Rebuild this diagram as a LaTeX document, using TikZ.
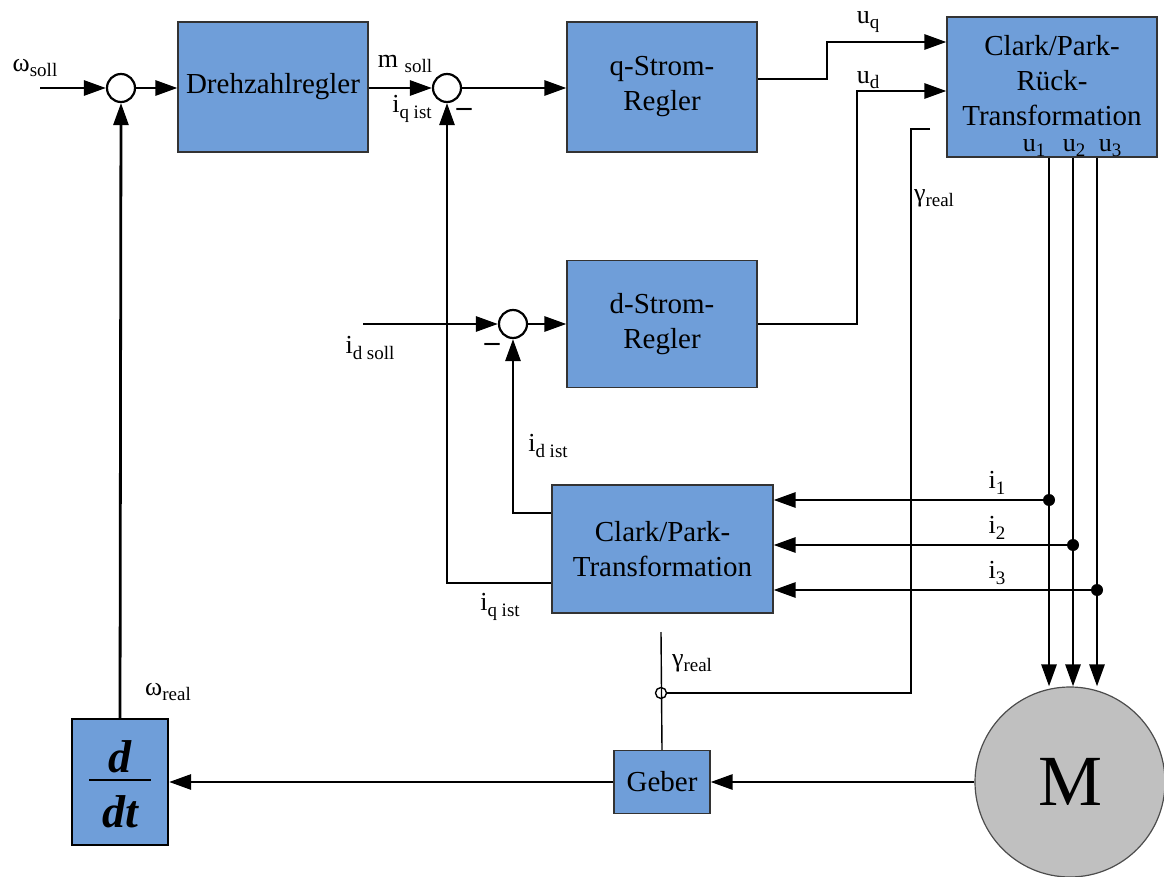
\documentclass[tikz,border=0pt]{standalone}
\usepackage{fontspec}
\setmainfont{Liberation Serif}
\usetikzlibrary{arrows.meta}
\definecolor{boxblue}{HTML}{6F9ED9}
\definecolor{motorgray}{HTML}{C0C0C0}
\newcommand{\lsub}[1]{\raisebox{-0.22em}{\fontsize{19}{19}\selectfont #1}}
\begin{document}
\begin{tikzpicture}[x=1pt,y=-1pt,
  blk/.style={draw=black!80, fill=boxblue, line width=1.2pt, inner sep=0pt, align=center, font=\fontsize{29}{35}\selectfont},
  sumc/.style={circle, draw, line width=2.2pt, minimum size=28pt, inner sep=0pt, fill=white},
  sig/.style={line width=2.8pt, -{Triangle[length=22pt,width=15pt]}},
  wire/.style={line width=2.8pt},
  thinw/.style={line width=1.4pt},
  lbl/.style={font=\fontsize{26}{30}\selectfont, inner sep=0pt},
  minus/.style={font=\fontsize{30}{30}\selectfont\bfseries, inner sep=0pt},
  dot/.style={circle, fill, inner sep=0pt, minimum size=12pt}]
\useasboundingbox (0,0) rectangle (1164,877);

% blocks
\node[blk, minimum width=190pt, minimum height=130pt] (dr) at (273,87) {Drehzahlregler};
\node[blk, minimum width=190pt, minimum height=130pt] (qr) at (662,87) {q-Strom-\\Regler};
\node[blk, minimum width=190pt, minimum height=127pt] (dsr) at (662,324) {d-Strom-\\Regler};
\node[blk, minimum width=210pt, minimum height=140pt] (cpr) at (1052,87) {};
\node[inner sep=0pt, align=center, font=\fontsize{29}{35}\selectfont] (cprt) at (1052,81) {Clark/Park-\\Rück-\\Transformation};
\node[blk, minimum width=221pt, minimum height=128pt] (cp) at (662.5,549) {Clark/Park-\\Transformation};
\node[blk, minimum width=96pt, minimum height=63pt] (geb) at (662,782) {Geber};
\node[blk, minimum width=96pt, minimum height=126pt, line width=2.2pt, draw=black] (ddt) at (120,782) {};
\node[inner sep=0pt, font=\fontsize{46}{46}\selectfont\bfseries\itshape] (ddtn) at (120,757) {d};
\node[inner sep=0pt, font=\fontsize{46}{46}\selectfont\bfseries\itshape] (ddtd) at (120,812) {dt};
\draw[line width=2.2pt] ([xshift=-31pt,yshift=2pt]ddt.center) -- ([xshift=31pt,yshift=2pt]ddt.center);
\node[circle, draw=black!70, line width=1.2pt, fill=motorgray, minimum size=190pt, inner sep=0pt,
      font=\fontsize{72}{72}\selectfont] (mot) at (1070,782) {M};

% summing points
\node[sumc] (s1) at (121,88) {};
\node[sumc] (s2) at (447,88) {};
\node[sumc] (s3) at (513,324) {};

% coordinates
\coordinate (win) at (40,88);
\coordinate (idin) at (363,324);
\coordinate (bq) at (827,42);
\coordinate (bd) at (857,91);
\coordinate (gr1) at (930,129);
\coordinate (gr2) at (911,693);
\coordinate (gtop) at (661,632);
\coordinate (j1) at (1049,500);
\coordinate (j2) at (1073,545);
\coordinate (j3) at (1097,590);

% forward path
\draw[sig] (win) -- (s1.west);
\draw[sig] (s1.east) -- (dr.west |- s1);
\draw[sig] (dr.east |- s2) -- (s2.west);
\draw[sig] (s2.east) -- (qr.west |- s2);
\draw[sig] (idin) -- (s3.west);
\draw[sig] (s3.east) -- (dsr.west |- s3);
\draw[sig] ([yshift=8pt]qr.east) -| (bq) -- (bq -| cpr.west);
\draw[sig] (dsr.east) -| (bd) -- (bd -| cpr.west);

% outputs u1..u3
\draw[sig] (cpr.south -| j1) -- (mot.north -| j1);
\draw[sig] (cpr.south -| j2) -- (mot.north -| j2);
\draw[sig] (cpr.south -| j3) -- (mot.north -| j3);

% current measurements
\draw[sig] (j1) -- (j1 -| cp.east);
\draw[sig] (j2) -- (j2 -| cp.east);
\draw[sig] (j3) -- (j3 -| cp.east);
\node[dot] at (j1) {};
\node[dot] at (j2) {};
\node[dot] at (j3) {};

% feedbacks
\draw[sig] ([yshift=36pt]cp.west) -| (s3.south);
\draw[sig] ([yshift=-34pt]cp.west) -| (s2.south);
\draw[sig] (mot.west) -- (geb.east);
\draw[sig] (geb.west) -- (ddt.east);
\draw[sig] (ddt.north) -- (s1.south);

% angle
\node[circle, draw, thinw, minimum size=11pt, inner sep=0pt] (gc) at (661,693) {};
\draw[thinw] (geb.north) -- (gtop);
\draw[wire] (gr1) -| (gr2) -- (gc.east);

% labels
\node[lbl] at (35,68) {ω\lsub{soll}};
\node[lbl] at (405,64) {m \lsub{soll}};
\node[lbl] at (412,109) {i\lsub{q ist}};
\node[minus] at (464,112) {–};
\node[lbl] at (868,22) {u\lsub{q}};
\node[lbl] at (868,80) {u\lsub{d}};
\node[lbl] at (1034,148) {u\lsub{1}};
\node[lbl] at (1074,148) {u\lsub{2}};
\node[lbl] at (1110,148) {u\lsub{3}};
\node[lbl] at (934,198) {γ\lsub{real}};
\node[lbl] at (370,348) {i\lsub{d soll}};
\node[minus] at (492,347) {–};
\node[lbl] at (548,446) {i\lsub{d ist}};
\node[lbl] at (500,607) {i\lsub{q ist}};
\node[lbl] at (997,483) {i\lsub{1}};
\node[lbl] at (997,528) {i\lsub{2}};
\node[lbl] at (997,573) {i\lsub{3}};
\node[lbl] at (692,663) {γ\lsub{real}};
\node[lbl] at (168,692) {ω\lsub{real}};
\end{tikzpicture}
\end{document}
